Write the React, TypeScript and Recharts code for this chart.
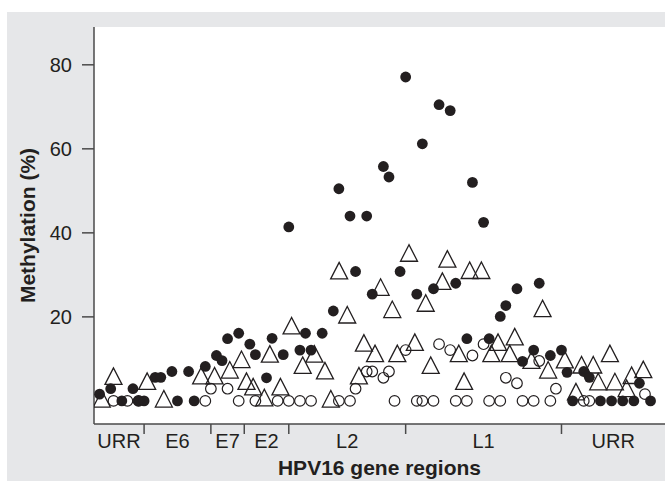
import React from 'react';
import { ScatterChart, Scatter, XAxis, YAxis, CartesianGrid } from 'recharts';

// Gene regions along the HPV16 genome (x = CpG site index)
const regionNames = ['URR', 'E6', 'E7', 'E2', 'L2', 'L1', 'URR'];
const regionBounds = [-1, 8, 20, 26, 34, 55, 83, 101.6];
const yTicks = [20, 40, 60, 80];

// [site index, methylation %]
const filledCircles: [number, number][] = [
  [0, 1.6], [2, 2.9], [4, 0], [6, 2.9], [7, 0], [8, 0], [10, 5.6], [11, 5.6], [13, 7.0], [14, 0],
  [16, 7.0], [17, 0], [19, 8.2], [21, 10.8], [22, 9.6], [23, 14.8], [25, 16.1], [27, 13.5], [28, 11],
  [30, 5.5], [31, 14.9], [33, 11], [34, 41.4], [36, 12.1], [37, 16.1], [38, 12.1], [40, 16.1],
  [42, 21.4], [43, 50.5], [45, 44], [46, 30.8], [48, 44], [49, 25.4], [51, 55.8], [52, 53.3],
  [54, 30.8], [55, 77.1], [57, 25.4], [58, 61.2], [60, 26.7], [61, 70.5], [63, 69.1], [64, 28],
  [66, 14.8], [67, 52], [69, 42.5], [70, 14.8], [72, 20.1], [73, 22.7], [75, 26.7], [76, 9.4],
  [78, 12.1], [79, 28], [81, 10.8], [83, 12.1], [84, 6.8], [85, 0], [87, 7.0], [88, 5.6], [90, 0],
  [92, 0], [94, 0], [96, 0], [97, 4.2], [99, 0],
];

const openCircles: [number, number][] = [
  [2.5, 0], [5, 0], [7, 0], [19, 0], [20, 2.9], [23, 2.9], [25, 0], [28, 0], [32, 0], [34, 0],
  [36, 0], [38, 0], [43, 0], [45, 0], [46, 2.9], [48, 7.0], [49, 7.0], [51, 5.5], [52, 7.0],
  [53, 0], [55, 12.1], [57, 0], [58, 0], [60, 0], [61, 13.5], [63, 12.1], [64, 0], [66, 0],
  [67, 10.8], [69, 13.5], [70, 0], [72, 0], [73, 5.5], [75, 4.2], [76, 0], [78, 0], [79, 9.5],
  [81, 0], [82, 2.9], [87, 0], [88, 0], [98, 1.6],
];

const openTriangles: [number, number][] = [
  [0.4, 0.5], [2.5, 5.9], [8.55, 4.7], [11.55, 0.5], [18.25, 6.0], [20.66, 6.0], [23.4, 7.4],
  [25.5, 9.9], [26.4, 4.7], [27.6, 3.4], [29.6, 0.8], [30.6, 11.2], [32.5, 3.4], [34.5, 17.9],
  [36.5, 8.5], [38.6, 11.2], [40.5, 7.2], [41.55, 0.5], [43.05, 31], [44.5, 20.5], [46.6, 6.0],
  [47.5, 13.8], [49.5, 11.3], [50.5, 27.1], [52.6, 21.8], [53.5, 11.3], [55.6, 35.2], [56.65, 14],
  [58.6, 23.3], [59.5, 8.5], [61.6, 28.5], [62.5, 33.8], [64.55, 11.3], [65.5, 4.7], [66.5, 31.1],
  [68.6, 31.1], [70.4, 11.3], [71.6, 14], [73.7, 11.3], [74.6, 15.3], [77.6, 9.7], [79.6, 22],
  [80.6, 7.4], [83.6, 9.8], [85.6, 2.2], [86.6, 8.6], [88.7, 8.6], [89.6, 4.6], [91.7, 11.3],
  [92.6, 4.6], [94.7, 3.0], [95.6, 6.1], [97.7, 7.5],
];

const toRows = (pts: [number, number][]) => pts.map(([site, value]) => ({ site, value }));

const innerBounds = regionBounds.slice(1, -1);
const regionMids = regionNames.map((_, i) => (regionBounds[i] + regionBounds[i + 1]) / 2);
const xTicks = [...innerBounds, ...regionMids].sort((a, b) => a - b);

const FONT = '"Liberation Sans", Arial, Helvetica, sans-serif';
const INK = '#231f20';
const AXIS = '#4a4a4a';

const RegionTick = (props: any) => {
  const { x, y, payload } = props;
  const v = payload.value;
  const bIdx = innerBounds.indexOf(v);
  if (bIdx >= 0) {
    return <line x1={x} x2={x} y1={y} y2={y + 10} stroke={AXIS} strokeWidth={1.5} />;
  }
  const mIdx = regionMids.indexOf(v);
  return (
    <text x={x} y={y + 24} textAnchor="middle" fontFamily={FONT} fontSize={20} fill={INK}>
      {regionNames[mIdx]}
    </text>
  );
};

const FilledDot = (props: any) => {
  const { cx, cy } = props;
  return <circle cx={cx} cy={cy} r={5.4} fill={INK} />;
};

const OpenDot = (props: any) => {
  const { cx, cy } = props;
  return <circle cx={cx} cy={cy} r={5.3} fill="none" stroke={INK} strokeWidth={1.2} />;
};

const TriangleMark = (props: any) => {
  const { cx, cy } = props;
  const w = 17;
  const h = 16.5;
  const pts = `${cx},${cy - h / 2} ${cx - w / 2},${cy + h / 2} ${cx + w / 2},${cy + h / 2}`;
  return <polygon points={pts} fill="none" stroke={INK} strokeWidth={1.3} strokeLinejoin="miter" />;
};

const YTitle = (props: any) => {
  const { viewBox } = props;
  const x = viewBox.x + 35;
  const y = viewBox.y + viewBox.height / 2;
  return (
    <text x={x} y={y} transform={`rotate(-90 ${x} ${y})`} textAnchor="middle" fontFamily={FONT}
      fontWeight="bold" fontSize={21} fill={INK}>
      Methylation (%)
    </text>
  );
};

const XTitle = (props: any) => {
  const { viewBox } = props;
  const x = viewBox.x + viewBox.width / 2;
  const y = viewBox.y + 50.5;
  return (
    <text x={x} y={y} textAnchor="middle" fontFamily={FONT} fontWeight="bold" fontSize={21} fill={INK}>
      HPV16 gene regions
    </text>
  );
};

export default function App() {
  return (
    <div style={{ position: 'absolute', left: 0, top: 0, width: 665, height: 487, overflow: 'hidden', background: '#ffffff' }}>
      <div style={{ position: 'absolute', left: 7, top: 12, width: 700, height: 469, background: '#e6e7e9' }} />
      <div style={{ position: 'absolute', left: 0, top: 0 }}>
        <ScatterChart width={665} height={487} margin={{ top: 27, right: 0, bottom: 0, left: 0 }}>
          <CartesianGrid horizontal={false} vertical={false} fill="#ffffff" stroke="none" />
          <XAxis
            dataKey="site"
            type="number"
            domain={[regionBounds[0], regionBounds[regionBounds.length - 1]]}
            allowDataOverflow
            ticks={xTicks}
            interval={0}
            height={63}
            tickSize={0}
            tickMargin={0}
            tickLine={false}
            axisLine={{ stroke: AXIS, strokeWidth: 1.5 }}
            tick={<RegionTick />}
            label={{ content: <XTitle /> }}
          />
          <YAxis
            dataKey="value"
            type="number"
            domain={[-5.5, 89]}
            allowDataOverflow
            ticks={yTicks}
            interval={0}
            width={94}
            tickSize={12}
            tickMargin={10}
            axisLine={{ stroke: AXIS, strokeWidth: 1.5 }}
            tickLine={{ stroke: AXIS, strokeWidth: 1.5 }}
            tick={{ fontFamily: FONT, fontSize: 20, fill: INK }}
            label={{ content: <YTitle /> }}
          />
          <Scatter data={toRows(filledCircles)} shape={<FilledDot />} isAnimationActive={false} />
          <Scatter data={toRows(openCircles)} shape={<OpenDot />} isAnimationActive={false} />
          <Scatter data={toRows(openTriangles)} shape={<TriangleMark />} isAnimationActive={false} />
        </ScatterChart>
      </div>
    </div>
  );
}
